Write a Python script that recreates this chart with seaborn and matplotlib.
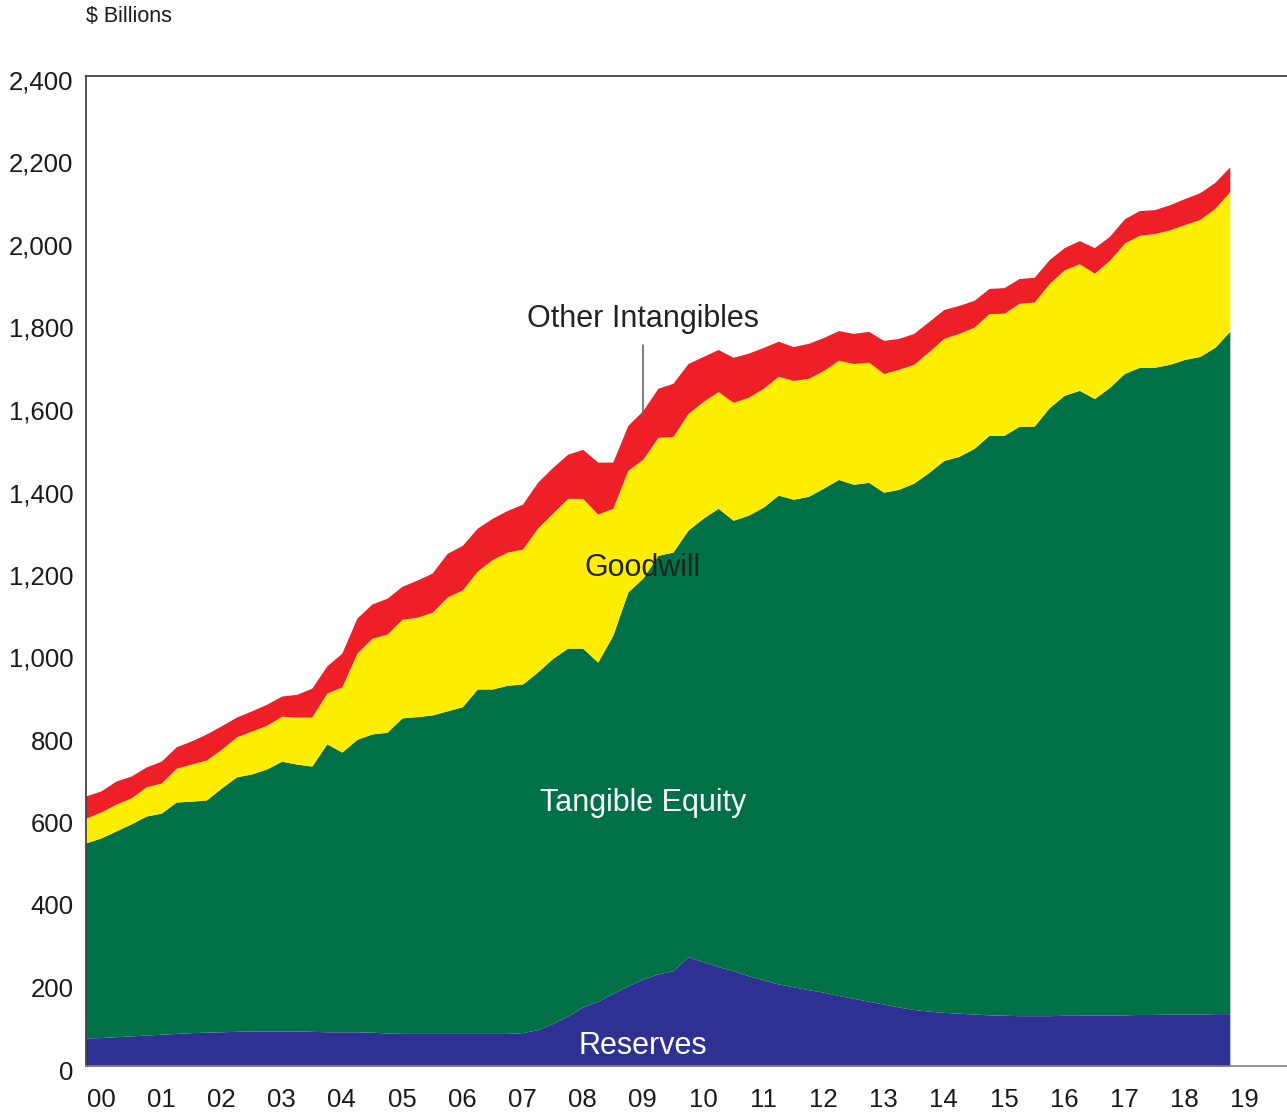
import numpy as np
import pandas as pd
import matplotlib
matplotlib.use('Agg')
import matplotlib.pyplot as plt
import seaborn as sns
from matplotlib.transforms import ScaledTranslation

sns.set_theme(style='white')
plt.rcParams['font.family'] = ['Liberation Sans', 'DejaVu Sans']

# Kwartały 2000Q1 - 2019Q1
quarters = pd.period_range('2000Q1', '2019Q1', freq='Q')

# $ mld (składowe stosu)
reserves = [68, 69, 71, 73, 75, 77, 79, 81, 82, 83, 84, 85, 85, 85, 85, 84,
            83, 83, 83, 82, 80, 79, 79, 79, 79, 79, 79, 79, 79, 81, 88, 103,
            121, 143, 157, 176, 194, 211, 223, 231, 265, 253, 241, 231, 219, 209,
            199, 192, 185, 179, 171, 164, 157, 150, 143, 137, 133, 130, 128, 126,
            124, 123, 122, 122, 122, 123, 123, 124, 124, 124, 125, 125, 126, 126,
            126, 127, 127]
tangible = [473, 484, 499, 514, 531, 536, 561, 561, 563, 591, 617, 623, 635, 654, 647, 643,
            698, 678, 709, 723, 729, 765, 768, 772, 782, 792, 835, 835, 844, 845, 867, 885,
            892, 870, 822, 868, 955, 972, 1015, 1015, 1034, 1075, 1111, 1092, 1116, 1146,
            1185, 1182, 1196, 1222, 1251, 1246, 1258, 1241, 1255, 1276, 1306, 1338, 1350, 1371,
            1405, 1406, 1429, 1429, 1474, 1503, 1515, 1494, 1521, 1555, 1569, 1569, 1575, 1587,
            1594, 1615, 1654]
goodwill = [60, 63, 65, 63, 71, 73, 82, 90, 97, 94, 97, 104, 106, 109, 114, 119,
            123, 158, 209, 232, 238, 239, 241, 249, 276, 283, 286, 314, 323, 327, 349, 352,
            363, 363, 359, 308, 295, 288, 286, 280, 283, 283, 283, 286, 286, 288,
            288, 288, 286, 285, 289, 293, 291, 288, 291, 288, 293, 296, 298, 294,
            295, 296, 298, 301, 301, 304, 307, 304, 308, 316, 320, 324, 326, 327,
            332, 337, 339]
other_intangibles = [54, 51, 56, 53, 48, 53, 52, 56, 63, 57, 48, 49, 51, 49, 55, 70,
                     66, 82, 85, 83, 87, 80, 90, 95, 106, 108, 104, 100, 101, 109, 111, 111,
                     107, 119, 126, 112, 109, 118, 119, 129, 121, 109, 102, 109, 107, 99,
                     85, 82, 85, 80, 72, 73, 75, 80, 75, 75, 73, 70, 68, 65,
                     61, 62, 60, 60, 58, 54, 56, 62, 58, 59, 60, 58, 61, 63,
                     65, 63, 60]

year_labels = ['00', '01', '02', '03', '04', '05', '06', '07', '08', '09',
               '10', '11', '12', '13', '14', '15', '16', '17', '18', '19']

COLOR_RESERVES = '#2E3192'
COLOR_TANGIBLE = '#007046'
COLOR_GOODWILL = '#FFEE00'
COLOR_OTHER = '#EE1F26'

x = np.array([p.year + (p.quarter - 1) / 4 for p in quarters])

fig = plt.figure(figsize=(12.87, 11.12), dpi=100)
ax = fig.add_axes([86 / 1287, 46 / 1112, 1201 / 1287, 990 / 1112])

ax.stackplot(x, reserves, tangible, goodwill, other_intangibles,
             colors=[COLOR_RESERVES, COLOR_TANGIBLE, COLOR_GOODWILL, COLOR_OTHER],
             linewidth=0)

ax.set_xlim(2000, 2019.95)
ax.set_ylim(0, 2400)
ax.set_yticks(np.arange(0, 2401, 200))
ax.set_yticklabels([f'{v:,}' for v in range(0, 2401, 200)])
ax.set_xticks(2000.25 + np.arange(len(year_labels)))
ax.set_xticklabels(year_labels)
ax.tick_params(axis='both', length=0, labelsize=18.5, colors='#1a1a1a')
ax.tick_params(axis='y', pad=9)
ax.tick_params(axis='x', pad=16)

# etykiety osi Y lekko poniżej linii, jak w oryginale
for lab in ax.get_yticklabels():
    lab.set_transform(lab.get_transform() + ScaledTranslation(0, -4 / 100, fig.dpi_scale_trans))

ax.grid(False)
ax.spines['right'].set_visible(False)
ax.spines['left'].set_color('#333333')
ax.spines['top'].set_color('#333333')
ax.spines['bottom'].set_color('#808080')
for s in ['left', 'top', 'bottom']:
    ax.spines[s].set_linewidth(1.2)

# Opisy warstw
ax.text(2009.25, 1812, 'Other Intangibles', ha='center', va='center',
        fontsize=22, color='#222222')
ax.plot([2009.25, 2009.25], [1748, 1573], color='#666666', linewidth=1.2)
ax.text(2009.25, 1207, 'Goodwill', ha='center', va='center', fontsize=22, color='#222222')
ax.text(2009.25, 637, 'Tangible Equity', ha='center', va='center', fontsize=22, color='white')
ax.text(2009.25, 48, 'Reserves', ha='center', va='center', fontsize=22, color='white')

fig.text(86 / 1287, 1 - 17 / 1112, '$ Billions', ha='left', va='center',
         fontsize=15.5, color='#1a1a1a')

plt.savefig('out.png', dpi=100)
plt.close()
